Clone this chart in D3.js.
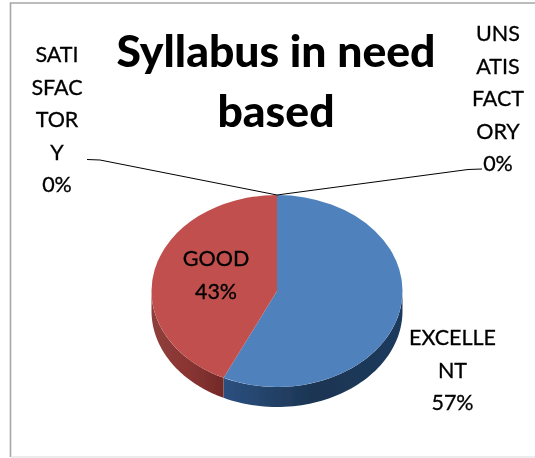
<!DOCTYPE html>
<html><head><meta charset="utf-8">
<script src="https://cdn.jsdelivr.net/npm/d3@7/dist/d3.min.js"></script>
<style>html,body{margin:0;padding:0;background:#fff}svg{display:block}text{font-family:Lato,"Open Sans",sans-serif;fill:#000}</style>
</head><body><svg id="c" width="535" height="458"></svg>
<script>
const categories = ["EXCELLENT","GOOD","UNSATISFACTORY","SATISFACTORY"];
const values = [57,43,0,0];
const titleLines = ["Syllabus in need","based"];
const labelLines = [["EXCELLE","NT","57%"],["GOOD","43%"],["UNS","ATIS","FACT","ORY","0%"],["SATI","SFAC","TOR","Y","0%"]];

const faceColors = ["#4f81bd","#c0504d"];
const sideStops = [["#2b5080","#1c3553","#1f3a5c"],["#8f3f3c","#8a3533","#722a28"]];
const labelAnchors = [[452.5,345],[216,266],[498,41],[57,62]];

const W=535,H=458,cx=277,cy=291,rx=125.5,ry=96,depth=20;
const svg=d3.select("#c");
const defs=svg.append("defs");
defs.append("filter").attr("id","soft").append("feGaussianBlur").attr("stdDeviation",0.4);
const root=svg.append("g").attr("filter","url(#soft)");

root.append("path").attr("d",`M${W},3H10.5V${H-1}`).attr("fill","none").attr("stroke","#a6a6a6").attr("stroke-width",1.6);
root.append("path").attr("d",`M11,${H-1}H${W}`).attr("stroke","#e6e6e6").attr("stroke-width",1.5);

const arcs=d3.pie().sort(null).startAngle(0).endAngle(2*Math.PI)(values);
const xs=d3.scaleLinear().domain([-1,1]).range([cx-rx,cx+rx]);
const ys=d3.scaleLinear().domain([-1,1]).range([cy-ry,cy+ry]);
const px=a=>xs(Math.sin(a)), py=a=>ys(-Math.cos(a));

arcs.slice(0,2).forEach((d,i)=>{
  const a0=Math.max(d.startAngle,Math.PI/2), a1=Math.min(d.endAngle,3*Math.PI/2);
  if(a1<=a0) return;
  const id="side"+i;
  const g=defs.append("linearGradient").attr("id",id).attr("gradientUnits","userSpaceOnUse")
    .attr("x1",px(a1)).attr("x2",px(a0)).attr("y1",0).attr("y2",0);
  sideStops[i].forEach((c,k)=>g.append("stop").attr("offset",k/2).attr("stop-color",c));
  const pts=d3.range(0,61).map(k=>a0+(a1-a0)*k/60);
  const p=d3.path();
  p.moveTo(px(a0),py(a0));
  pts.forEach(a=>p.lineTo(px(a),py(a)));
  pts.slice().reverse().forEach(a=>p.lineTo(px(a),py(a)+depth));
  p.closePath();
  root.append("path").attr("d",p.toString()).attr("fill",`url(#${id})`);
});

const arc=d3.arc().innerRadius(0).outerRadius(rx);
root.append("g").attr("transform",`translate(${cx},${cy}) scale(1,${ry/rx})`)
  .selectAll("path").data(arcs.slice(0,2)).join("path")
  .attr("d",arc).attr("fill",(d,i)=>faceColors[i]);

root.append("path").attr("fill","none").attr("stroke","#000").attr("stroke-width",1)
  .attr("d",d3.line()([[87,159.5],[100,160],[cx,py(0)],[468,169.5],[482,169]]));

root.append("g").selectAll("text").data(titleLines).join("text")
  .attr("x",276).attr("y",(d,i)=>67+i*60).attr("text-anchor","middle")
  .attr("font-size",44.5).attr("font-weight",900).text(d=>d);

labelLines.forEach((lines,i)=>{
  root.append("g").selectAll("text").data(lines).join("text")
    .attr("x",labelAnchors[i][0]).attr("y",(d,k)=>labelAnchors[i][1]+k*32.5)
    .attr("text-anchor","middle").attr("font-size",21.5)
    .attr("stroke","#000").attr("stroke-width",0.3).text(d=>d);
});
</script></body></html>
